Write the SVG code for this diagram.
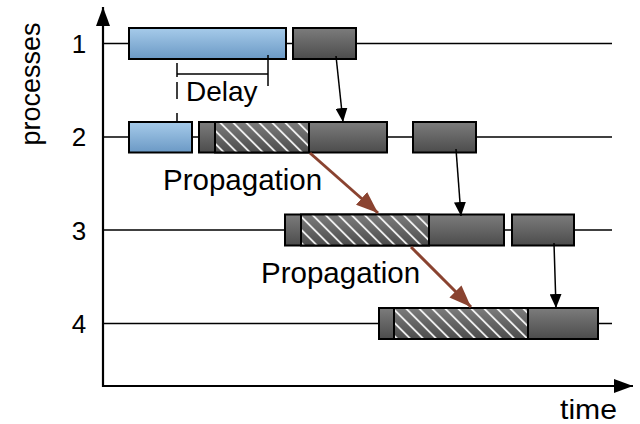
<svg xmlns="http://www.w3.org/2000/svg" width="640" height="424" viewBox="0 0 640 424">
  <defs>
    <linearGradient id="gBlue" x1="0" y1="0" x2="0" y2="1">
      <stop offset="0" stop-color="#a6cbea"/>
      <stop offset="1" stop-color="#6b99c5"/>
    </linearGradient>
    <linearGradient id="gDark" x1="0" y1="0" x2="0" y2="1">
      <stop offset="0" stop-color="#7c7c7c"/>
      <stop offset="1" stop-color="#4c4c4c"/>
    </linearGradient>
    <pattern id="hatch" patternUnits="userSpaceOnUse" width="9.2" height="20" patternTransform="rotate(-45)">
      <line x1="4.6" y1="-2" x2="4.6" y2="22" stroke="#ffffff" stroke-width="1.6"/>
    </pattern>
    <marker id="ahBlack" viewBox="0 0 10 10" refX="10" refY="5" markerWidth="14" markerHeight="12" markerUnits="userSpaceOnUse" orient="auto" preserveAspectRatio="none">
      <path d="M0,0 L10,5 L0,10 Z" fill="#000"/>
    </marker>
    <marker id="ahAxis" viewBox="0 0 10 10" refX="10" refY="5" markerWidth="19" markerHeight="14" markerUnits="userSpaceOnUse" orient="auto" preserveAspectRatio="none">
      <path d="M0,0 L10,5 L0,10 Z" fill="#000"/>
    </marker>
    <marker id="ahBrown" viewBox="0 0 10 10" refX="10" refY="5" markerWidth="22" markerHeight="17" markerUnits="userSpaceOnUse" orient="auto" preserveAspectRatio="none">
      <path d="M0,0 L10,5 L0,10 Z" fill="#8a4330"/>
    </marker>
  </defs>
  <style>
    text { font-family: "Liberation Sans", Arial, sans-serif; fill: #000; }
    .lbl { font-size: 28px; }
    .axl { font-size: 27px; }
    .prop { font-size: 29.5px; }
    .num { font-size: 26px; text-anchor: middle; }
    .lane { stroke: #000; stroke-width: 1.6; fill: none; }
    .axis { stroke: #000; stroke-width: 2.2; fill: none; }
    .blue { fill: url(#gBlue); stroke: #000; stroke-width: 2; }
    .dark { fill: url(#gDark); stroke: #000; stroke-width: 2; }
    .hatchbg { fill: url(#gDark); }
    .hatchfg { fill: url(#hatch); stroke: #000; stroke-width: 2; }
    .msg { stroke: #000; stroke-width: 1.5; fill: none; marker-end: url(#ahBlack); }
    .prop-arrow { stroke: #8a4330; stroke-width: 3; fill: none; marker-end: url(#ahBrown); }
    .tick { stroke: #000; stroke-width: 1.5; fill: none; }
  </style>

  <!-- process timelines -->
  <g id="lanes">
    <line class="lane" x1="103" y1="43.5" x2="612" y2="43.5"/>
    <line class="lane" x1="103" y1="137" x2="612" y2="137"/>
    <line class="lane" x1="103" y1="230" x2="612" y2="230"/>
    <line class="lane" x1="103" y1="323.5" x2="612" y2="323.5"/>
  </g>

  <!-- axes -->
  <g id="axes">
    <line class="axis" x1="103" y1="387" x2="103" y2="7" marker-end="url(#ahAxis)"/>
    <line class="axis" x1="102" y1="386" x2="633" y2="386" marker-end="url(#ahAxis)"/>
    <text class="axl" transform="translate(40,84) rotate(-90)" text-anchor="middle">processes</text>
    <text class="lbl" x="560" y="419" textLength="57" lengthAdjust="spacingAndGlyphs">time</text>
    <text class="num" x="79" y="53">1</text>
    <text class="num" x="79" y="146">2</text>
    <text class="num" x="79" y="240">3</text>
    <text class="num" x="79" y="333">4</text>
  </g>

  <!-- process 1 -->
  <g id="p1-work">
    <rect class="blue" x="129" y="28" width="157" height="31"/>
  </g>
  <g id="p1-send">
    <rect class="dark" x="293" y="28" width="63" height="31"/>
  </g>

  <!-- process 2 -->
  <g id="p2-work">
    <rect class="blue" x="129" y="122" width="63" height="30.5"/>
  </g>
  <g id="p2-recv">
    <rect class="dark" x="199" y="122" width="188" height="30.5"/>
    <rect class="hatchbg" x="215" y="122" width="94" height="30.5"/>
    <rect class="hatchfg" x="215" y="122" width="94" height="30.5"/>
  </g>
  <g id="p2-send">
    <rect class="dark" x="413" y="122" width="63" height="30.5"/>
  </g>

  <!-- process 3 -->
  <g id="p3-recv">
    <rect class="dark" x="285" y="214.5" width="219" height="31"/>
    <rect class="hatchbg" x="301" y="214.5" width="128" height="31"/>
    <rect class="hatchfg" x="301" y="214.5" width="128" height="31"/>
  </g>
  <g id="p3-send">
    <rect class="dark" x="512" y="214.5" width="62" height="31"/>
  </g>

  <!-- process 4 -->
  <g id="p4-recv">
    <rect class="dark" x="379" y="308" width="219" height="31"/>
    <rect class="hatchbg" x="394" y="308" width="134" height="31"/>
    <rect class="hatchfg" x="394" y="308" width="134" height="31"/>
  </g>

  <!-- delay bracket -->
  <g id="delay">
    <line class="tick" x1="177" y1="63" x2="177" y2="123" stroke-dasharray="14 5 17 14 20"/>
    <line class="tick" x1="268" y1="55" x2="268" y2="86"/>
    <line class="tick" x1="177" y1="74" x2="268" y2="74"/>
    <text class="lbl" x="186" y="101">Delay</text>
  </g>

  <!-- messages and propagation -->
  <g id="connectors">
    <line class="msg" x1="336" y1="56" x2="343" y2="122"/>
    <line class="msg" x1="456" y1="149" x2="461" y2="216"/>
    <line class="msg" x1="554" y1="243" x2="556" y2="308"/>
    <line class="prop-arrow" x1="310" y1="153" x2="378" y2="213"/>
    <line class="prop-arrow" x1="411" y1="247" x2="471" y2="307"/>
  </g>

  <g id="propagation-labels">
    <text class="prop" x="163" y="190">Propagation</text>
    <text class="prop" x="261" y="283">Propagation</text>
  </g>
</svg>
